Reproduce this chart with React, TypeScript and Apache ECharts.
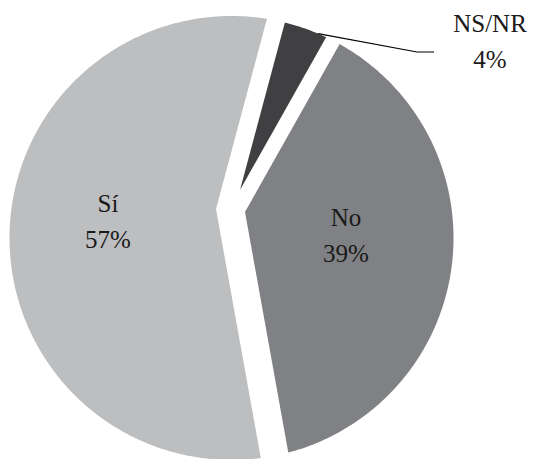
import React, { useEffect, useRef } from "react";
import * as echarts from "echarts";

// ---- data ----
const categories = ["NS/NR", "No", "Sí"];
const values = [4, 39, 57];
const percentLabels = ["4%", "39%", "57%"];

// ---- styles / layout ----
const colors = ["#404042", "#808184", "#bdbec0"];
const LAYOUT = {
  center: [231.5, 238],
  radius: 222,
  startAngle: 15, // degrees clockwise from 12 o'clock
  // explosion offsets of each slice's apex from the pie centre
  apexOffset: [
    [8.5, -48],
    [13.5, -26],
    [-15.5, -29],
  ],
  labelPos: [
    [490, 41],
    [346, 235],
    [108, 221],
  ],
  leaderFrac: 0.8,
  leaderElbow: [417, 52],
  leaderEnd: [434, 52],
};
const FONT = '"Liberation Serif", "DejaVu Serif", serif';

export default function App() {
  const ref = useRef<HTMLDivElement>(null);

  useEffect(() => {
    if (!ref.current) return;
    const chart = echarts.init(ref.current, undefined, { renderer: "svg" });
    const total = values.reduce((a, b) => a + b, 0);
    const [cx, cy] = LAYOUT.center;
    const R = LAYOUT.radius;

    const rayHit = (ax: number, ay: number, deg: number) => {
      const r = (deg * Math.PI) / 180;
      const ux = Math.sin(r);
      const uy = -Math.cos(r);
      const dx = ax - cx;
      const dy = ay - cy;
      const b = dx * ux + dy * uy;
      const c = dx * dx + dy * dy - R * R;
      const t = -b + Math.sqrt(b * b - c);
      return [ax + t * ux, ay + t * uy];
    };
    const angOf = (p: number[]) =>
      (Math.atan2(p[0] - cx, -(p[1] - cy)) * 180) / Math.PI;
    const onCircle = (deg: number) => {
      const r = (deg * Math.PI) / 180;
      return [cx + R * Math.sin(r), cy - R * Math.cos(r)];
    };

    const renderItem = (params: any, api: any) => {
      const i = params.dataIndex;
      const v = api.value(0);
      let before = 0;
      for (let k = 0; k < i; k++) before += values[k];
      const a1 = LAYOUT.startAngle + (before / total) * 360;
      const a2 = a1 + (v / total) * 360;
      const ax = cx + LAYOUT.apexOffset[i][0];
      const ay = cy + LAYOUT.apexOffset[i][1];
      const p1 = rayHit(ax, ay, a1);
      const p2 = rayHit(ax, ay, a2);
      const f1 = angOf(p1);
      let f2 = angOf(p2);
      while (f2 < f1) f2 += 360;
      const pts: number[][] = [[ax, ay], p1];
      const steps = Math.max(2, Math.ceil(f2 - f1));
      for (let s = 1; s < steps; s++) {
        pts.push(onCircle(f1 + ((f2 - f1) * s) / steps));
      }
      pts.push(p2);

      const children: any[] = [
        {
          type: "polygon",
          shape: { points: pts },
          style: { fill: colors[i], stroke: null },
        },
      ];
      const [lx, ly] = LAYOUT.labelPos[i];
      children.push({
        type: "text",
        style: {
          text: categories[i] + "\n" + percentLabels[i],
          x: lx,
          y: ly,
          align: "center",
          verticalAlign: "middle",
          fontSize: 25,
          fontFamily: FONT,
          lineHeight: 36,
          fill: "#1a1a1a",
        },
      });
      if (i === 0) {
        const start = rayHit(ax, ay, a1 + (a2 - a1) * LAYOUT.leaderFrac);
        children.push({
          type: "polyline",
          shape: { points: [start, LAYOUT.leaderElbow, LAYOUT.leaderEnd] },
          style: { stroke: "#000", lineWidth: 1.2, fill: null },
        });
      }
      return { type: "group", children };
    };

    chart.setOption({
      animation: false,
      backgroundColor: "#ffffff",
      series: [
        {
          type: "custom",
          coordinateSystem: "none",
          silent: true,
          data: values.map((v, i) => ({ name: categories[i], value: [v] })),
          renderItem,
        },
      ],
    });
    return () => chart.dispose();
  }, []);

  return (
    <div
      ref={ref}
      style={{ position: "fixed", left: 0, top: 0, width: 534, height: 459, background: "#fff" }}
    />
  );
}
